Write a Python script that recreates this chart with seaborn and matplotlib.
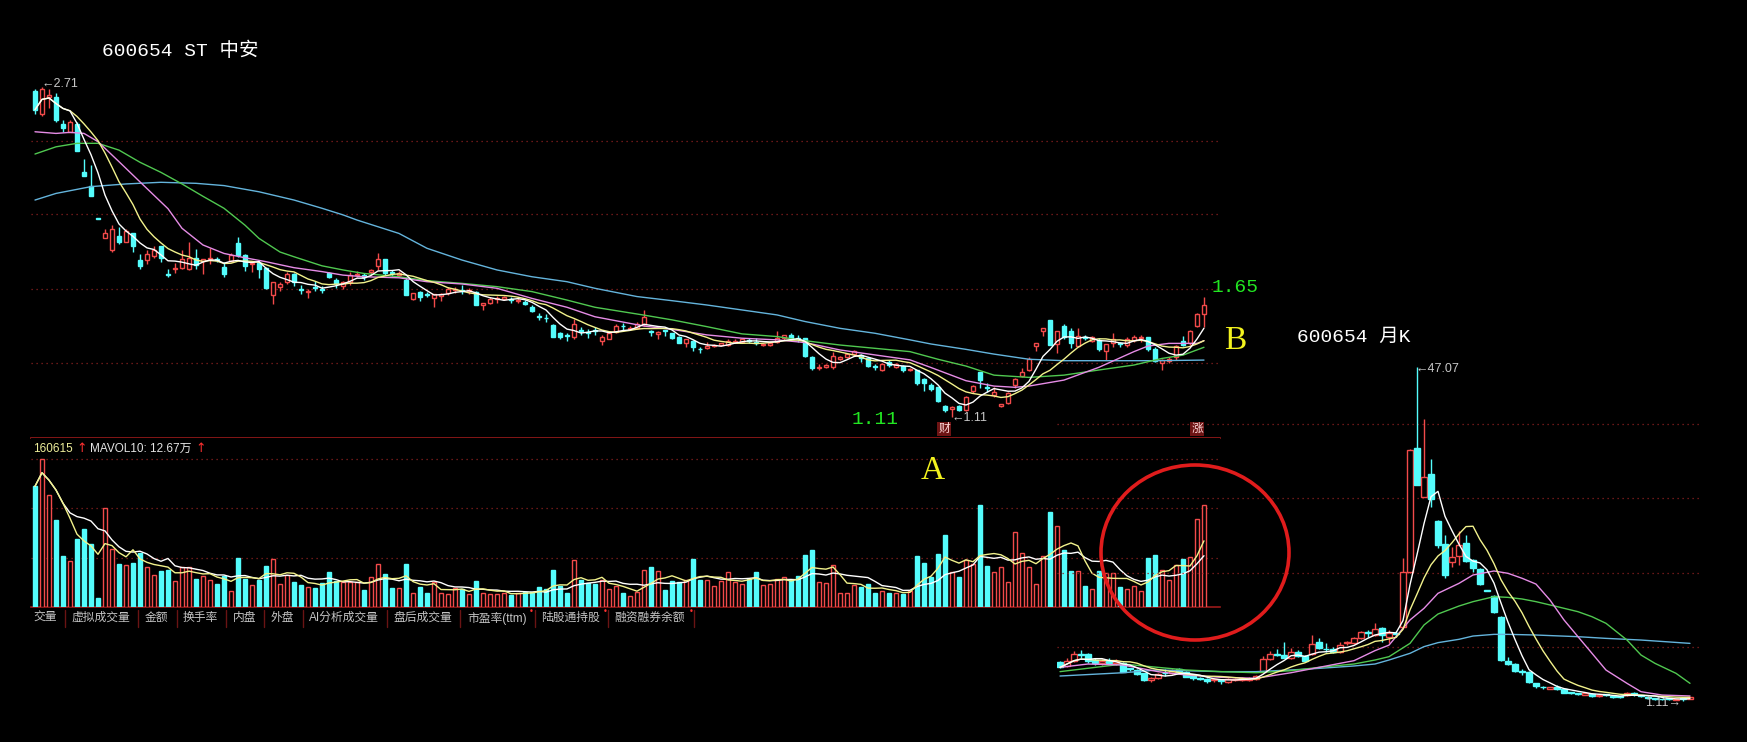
import numpy as np
import pandas as pd
import matplotlib
matplotlib.use('Agg')
import matplotlib.pyplot as plt
from matplotlib.patches import Ellipse
from matplotlib.lines import Line2D
import seaborn as sns

# ---- daily K (600654 ST中安) ----
d_open = [2.69, 2.58, 2.66, 2.66, 2.53, 2.49, 2.53, 2.30, 2.23, 2.075,
          1.98, 1.92, 1.99, 1.96, 2.00, 1.87, 1.87, 1.89, 1.94, 1.80,
          1.827, 1.834, 1.826, 1.882, 1.866, 1.874, 1.876, 1.839, 1.868, 1.952,
          1.895, 1.850, 1.858, 1.831, 1.701, 1.742, 1.763, 1.803, 1.730, 1.714,
          1.741, 1.733, 1.806, 1.774, 1.745, 1.766, 1.80, 1.80, 1.813, 1.844,
          1.874, 1.812, 1.80, 1.774, 1.682, 1.718, 1.703, 1.685, 1.697, 1.713,
          1.727, 1.725, 1.72, 1.718, 1.653, 1.664, 1.684, 1.684, 1.68, 1.673,
          1.669, 1.645, 1.598, 1.59, 1.556, 1.519, 1.504, 1.499, 1.53, 1.521,
          1.53, 1.48, 1.49, 1.524, 1.553, 1.535, 1.54, 1.561, 1.528, 1.513,
          1.53, 1.516, 1.50, 1.467, 1.48, 1.44, 1.443, 1.456, 1.458, 1.459,
          1.472, 1.476, 1.482, 1.476, 1.459, 1.459, 1.475, 1.492, 1.508, 1.49,
          1.492, 1.40, 1.35, 1.351, 1.351, 1.39, 1.40, 1.416, 1.411, 1.395,
          1.355, 1.338, 1.378, 1.351, 1.358, 1.338, 1.338, 1.293, 1.265, 1.257,
          1.165, 1.150, 1.163, 1.144, 1.238, 1.33, 1.255, 1.216, 1.163, 1.176,
          1.265, 1.309, 1.338, 1.454, 1.528, 1.58, 1.464, 1.551, 1.528, 1.454,
          1.497, 1.48, 1.483, 1.431, 1.47, 1.466, 1.459, 1.483, 1.491, 1.496,
          1.438, 1.37, 1.383, 1.399, 1.48, 1.467, 1.551, 1.609]
d_high = [2.70, 2.71, 2.70, 2.68, 2.55, 2.55, 2.54, 2.36, 2.33, 2.075,
          2.02, 2.04, 2.03, 2.02, 2.00, 1.90, 1.92, 1.94, 1.94, 1.83,
          1.855, 1.92, 1.96, 1.924, 1.876, 1.93, 1.887, 1.863, 1.903, 1.984,
          1.899, 1.86, 1.871, 1.839, 1.766, 1.766, 1.815, 1.806, 1.75, 1.733,
          1.77, 1.745, 1.815, 1.785, 1.77, 1.814, 1.82, 1.81, 1.83, 1.907,
          1.874, 1.823, 1.82, 1.79, 1.713, 1.722, 1.718, 1.706, 1.71, 1.742,
          1.742, 1.75, 1.734, 1.722, 1.661, 1.693, 1.697, 1.697, 1.69, 1.69,
          1.677, 1.653, 1.616, 1.608, 1.561, 1.524, 1.519, 1.583, 1.548, 1.535,
          1.545, 1.507, 1.524, 1.561, 1.564, 1.55, 1.572, 1.629, 1.532, 1.527,
          1.532, 1.519, 1.503, 1.487, 1.484, 1.451, 1.475, 1.464, 1.47, 1.487,
          1.487, 1.49, 1.492, 1.492, 1.468, 1.475, 1.529, 1.508, 1.519, 1.508,
          1.492, 1.406, 1.367, 1.367, 1.427, 1.406, 1.42, 1.435, 1.416, 1.40,
          1.367, 1.37, 1.387, 1.37, 1.362, 1.35, 1.338, 1.298, 1.274, 1.257,
          1.168, 1.162, 1.168, 1.212, 1.265, 1.33, 1.273, 1.254, 1.175, 1.233,
          1.297, 1.346, 1.399, 1.467, 1.54, 1.58, 1.528, 1.561, 1.54, 1.54,
          1.507, 1.503, 1.491, 1.463, 1.519, 1.475, 1.496, 1.507, 1.507, 1.496,
          1.448, 1.39, 1.402, 1.459, 1.503, 1.532, 1.612, 1.69]
d_low = [2.58, 2.57, 2.61, 2.54, 2.49, 2.49, 2.40, 2.28, 2.18, 2.07,
         1.98, 1.91, 1.95, 1.96, 1.91, 1.83, 1.85, 1.88, 1.86, 1.79,
         1.806, 1.83, 1.823, 1.826, 1.803, 1.852, 1.86, 1.787, 1.863, 1.887,
         1.818, 1.815, 1.782, 1.730, 1.656, 1.721, 1.753, 1.747, 1.705, 1.688,
         1.722, 1.71, 1.782, 1.734, 1.73, 1.75, 1.787, 1.774, 1.80, 1.823,
         1.798, 1.793, 1.79, 1.701, 1.677, 1.674, 1.69, 1.645, 1.674, 1.701,
         1.71, 1.706, 1.706, 1.653, 1.629, 1.658, 1.664, 1.677, 1.664, 1.664,
         1.653, 1.62, 1.58, 1.572, 1.496, 1.49, 1.48, 1.49, 1.507, 1.491,
         1.507, 1.459, 1.486, 1.519, 1.532, 1.53, 1.535, 1.551, 1.503, 1.49,
         1.503, 1.487, 1.467, 1.448, 1.432, 1.419, 1.442, 1.448, 1.455, 1.455,
         1.467, 1.47, 1.467, 1.46, 1.455, 1.455, 1.467, 1.483, 1.483, 1.475,
         1.403, 1.338, 1.338, 1.346, 1.341, 1.386, 1.395, 1.41, 1.379, 1.351,
         1.338, 1.335, 1.351, 1.346, 1.33, 1.333, 1.265, 1.238, 1.238, 1.185,
         1.136, 1.11, 1.14, 1.14, 1.228, 1.249, 1.232, 1.208, 1.16, 1.173,
         1.249, 1.302, 1.334, 1.431, 1.503, 1.459, 1.418, 1.486, 1.443, 1.448,
         1.483, 1.475, 1.431, 1.386, 1.448, 1.448, 1.448, 1.475, 1.475, 1.431,
         1.378, 1.338, 1.37, 1.386, 1.454, 1.459, 1.548, 1.548]
d_close = [2.60, 2.70, 2.67, 2.55, 2.51, 2.54, 2.40, 2.28, 2.18, 2.07,
           2.00, 2.02, 1.96, 2.01, 1.94, 1.84, 1.90, 1.92, 1.88, 1.797,
           1.833, 1.874, 1.879, 1.847, 1.874, 1.882, 1.872, 1.803, 1.895, 1.895,
           1.844, 1.858, 1.826, 1.734, 1.763, 1.756, 1.802, 1.763, 1.726, 1.720,
           1.736, 1.728, 1.79, 1.758, 1.765, 1.798, 1.805, 1.79, 1.823, 1.874,
           1.806, 1.808, 1.81, 1.701, 1.709, 1.693, 1.70, 1.706, 1.706, 1.729,
           1.731, 1.72, 1.725, 1.653, 1.661, 1.684, 1.688, 1.693, 1.676, 1.678,
           1.658, 1.625, 1.596, 1.588, 1.499, 1.496, 1.502, 1.561, 1.528, 1.519,
           1.528, 1.499, 1.519, 1.551, 1.549, 1.543, 1.561, 1.593, 1.524, 1.524,
           1.527, 1.492, 1.471, 1.487, 1.448, 1.438, 1.454, 1.46, 1.467, 1.48,
           1.48, 1.487, 1.48, 1.468, 1.465, 1.47, 1.492, 1.508, 1.492, 1.487,
           1.406, 1.346, 1.354, 1.362, 1.406, 1.40, 1.416, 1.432, 1.395, 1.358,
           1.353, 1.367, 1.362, 1.366, 1.338, 1.344, 1.274, 1.277, 1.244, 1.19,
           1.144, 1.158, 1.144, 1.205, 1.26, 1.289, 1.252, 1.233, 1.173, 1.228,
           1.292, 1.33, 1.391, 1.467, 1.54, 1.459, 1.528, 1.496, 1.47, 1.503,
           1.494, 1.496, 1.438, 1.463, 1.486, 1.463, 1.486, 1.496, 1.499, 1.438,
           1.383, 1.386, 1.39, 1.454, 1.459, 1.528, 1.609, 1.653]
# volume, in 10k shares (万)
d_vol = [19.2, 23.5, 17.8, 13.9, 8.1, 7.3, 10.8, 12.4, 10.0, 1.4,
         15.8, 9.2, 6.8, 6.7, 7.0, 8.6, 6.4, 5.1, 5.7, 5.9,
         4.1, 6.4, 6.4, 4.5, 4.9, 4.3, 3.7, 5.0, 2.5, 7.8,
         4.5, 3.5, 4.3, 6.5, 7.6, 3.7, 5.1, 3.9, 3.5, 3.2,
         3.0, 3.8, 5.6, 4.2, 4.0, 4.0, 4.0, 2.7, 4.8, 6.8,
         5.2, 3.0, 3.0, 6.8, 2.2, 3.2, 2.3, 4.0, 2.2, 2.1,
         3.1, 2.9, 2.1, 4.1, 2.2, 2.1, 2.1, 2.3, 1.9, 2.2,
         2.4, 2.4, 3.2, 2.8, 5.9, 3.3, 2.3, 7.5, 4.3, 3.8,
         3.7, 4.3, 2.8, 3.3, 2.3, 1.8, 2.4, 5.9, 6.4, 5.7,
         2.7, 4.1, 3.9, 4.3, 7.6, 4.3, 4.3, 3.3, 4.1, 5.5,
         3.9, 3.7, 4.5, 5.5, 3.5, 3.7, 4.5, 4.7, 4.3, 5.0,
         8.3, 9.1, 3.9, 3.8, 6.7, 2.3, 2.3, 3.5, 3.2, 3.7,
         2.2, 2.5, 2.3, 2.3, 2.1, 2.5, 8.1, 7.0, 4.8, 8.4,
         11.4, 5.5, 4.8, 7.4, 6.9, 16.2, 6.5, 5.5, 6.4, 3.9,
         11.9, 8.6, 6.3, 3.7, 8.1, 15.1, 12.8, 9.1, 5.8, 5.8,
         3.3, 2.9, 5.8, 5.4, 5.4, 3.2, 2.9, 3.4, 2.6, 7.8,
         8.3, 5.9, 4.3, 6.7, 7.7, 8.0, 14.0, 16.2]

# longer daily averages, read at a few days
d_ma20_idx = [0, 3, 5, 7, 9, 12, 15, 19, 21, 24, 27, 30, 33, 37, 41, 44, 47, 52, 56, 61,
              66, 71, 76, 80, 87, 91, 96, 101, 106, 110, 115, 120, 125, 128, 133, 137, 140, 142,
              147, 152, 157, 159, 162, 166, 167]
d_ma20_val = [2.493, 2.485, 2.49, 2.485, 2.445, 2.348, 2.25, 2.12, 2.025, 1.944, 1.903, 1.882,
              1.863, 1.834, 1.815, 1.798, 1.79, 1.785, 1.766, 1.755, 1.734, 1.685, 1.642, 1.596,
              1.551, 1.535, 1.508, 1.492, 1.484, 1.471, 1.435, 1.411, 1.387, 1.35, 1.286, 1.26,
              1.254, 1.26, 1.289, 1.351, 1.427, 1.454, 1.467, 1.467, 1.48]
d_ma30_idx = [0, 3, 6, 9, 12, 15, 18, 21, 24, 27, 30, 32, 35, 37, 41, 44, 47, 52, 56, 61, 66,
              71, 76, 80, 87, 91, 96, 101, 106, 110, 115, 120, 125, 129, 133, 137, 142, 147,
              152, 157, 161, 164, 167]
d_ma30_val = [2.385, 2.42, 2.437, 2.437, 2.404, 2.345, 2.296, 2.24, 2.18, 2.122, 2.04, 1.976,
              1.91, 1.887, 1.843, 1.823, 1.806, 1.79, 1.771, 1.758, 1.742, 1.718, 1.677, 1.642,
              1.604, 1.581, 1.548, 1.513, 1.5, 1.48, 1.459, 1.443, 1.427, 1.39, 1.357, 1.313,
              1.302, 1.313, 1.338, 1.362, 1.394, 1.41, 1.448]
d_ma60_idx = [0, 3, 8, 13, 18, 23, 27, 32, 37, 41, 44, 46, 52, 56, 61, 66, 71, 76, 80, 86, 91,
              96, 101, 106, 110, 115, 120, 125, 128, 133, 137, 142, 147, 152, 160, 167]
d_ma60_val = [2.162, 2.194, 2.227, 2.24, 2.248, 2.243, 2.232, 2.202, 2.162, 2.122, 2.09, 2.065,
              2.0, 1.928, 1.871, 1.823, 1.79, 1.766, 1.734, 1.694, 1.674, 1.653, 1.629, 1.605,
              1.573, 1.54, 1.516, 1.484, 1.464, 1.438, 1.415, 1.39, 1.383, 1.383, 1.383, 1.386]
d_grid = [2.45, 2.093, 1.729, 1.37]
vol_grid = [7.85, 15.7, 23.55]

# ---- monthly K (月K) ----
m_open = [6.52, 5.93, 6.66, 7.6, 7.58, 6.75, 6.29, 6.66, 6.3, 6.39,
          5.6, 5.38, 4.92, 4.0, 4.23, 4.95, 4.92, 5.47, 5.15, 4.55,
          4.25, 4.09, 3.98, 3.95, 3.77, 4.05, 4.0, 4.0, 4.09, 5.15,
          6.84, 7.45, 7.44, 6.98, 7.9, 7.3, 7.58, 9.27, 8.25, 8.22,
          7.9, 9.1, 9.04, 9.73, 10.5, 10.19, 11.1, 9.96, 10.4, 11.34,
          18.9, 35.88, 29.23, 32.35, 25.83, 22.71, 20.28, 21.06, 22.8, 20.51,
          19.23, 16.3, 15.56, 12.71, 6.66, 6.2, 5.2, 5.15, 3.54, 3.0,
          2.8, 3.08, 2.71, 2.3, 2.1, 1.98, 2.07, 1.8, 1.94, 1.8,
          1.7, 1.93, 2.1, 1.8, 1.7, 1.47, 1.35, 1.42, 1.3, 1.4,
          1.4]
m_high = [6.6, 6.98, 8.03, 8.1, 7.76, 6.98, 6.9, 6.98, 6.84, 6.52,
          5.7, 5.47, 5.0, 4.37, 4.92, 5.47, 5.47, 5.6, 5.28, 4.69,
          4.37, 4.23, 4.23, 4.09, 4.23, 4.23, 4.37, 4.37, 4.69, 7.3,
          8.03, 8.22, 9.27, 8.36, 8.13, 7.44, 10.19, 9.73, 9.13, 8.5,
          9.27, 9.4, 9.95, 10.8, 10.88, 11.8, 11.33, 10.88, 10.8, 20.74,
          35.74, 47.07, 39.87, 34.36, 26.02, 23.95, 22.35, 24.55, 23.95, 20.6,
          19.37, 16.3, 15.7, 12.8, 7.21, 6.29, 5.47, 5.28, 3.63, 3.17,
          3.08, 3.3, 2.8, 2.4, 2.2, 2.25, 2.16, 2.0, 2.02, 1.93,
          1.8, 2.39, 2.39, 1.9, 1.8, 1.55, 1.45, 1.5, 1.45, 1.5,
          1.69]
m_low = [5.6, 5.74, 6.52, 6.98, 6.38, 6.06, 6.1, 6.1, 6.06, 5.05,
         5.2, 4.69, 3.9, 3.77, 4.14, 4.55, 4.83, 5.0, 4.37, 4.0,
         4.0, 3.63, 3.77, 3.45, 3.54, 3.9, 3.9, 3.9, 4.0, 5.0,
         6.75, 7.3, 6.98, 6.84, 7.12, 6.52, 7.44, 8.22, 7.9, 7.76,
         7.67, 8.8, 8.95, 9.6, 9.95, 10.05, 9.28, 9.14, 9.87, 11.1,
         18.68, 30.83, 29.14, 27.85, 22.12, 17.99, 19.6, 19.83, 20.28, 18.9,
         17.07, 16.2, 13.26, 6.66, 6.06, 5.15, 4.69, 3.63, 2.85, 2.71,
         2.7, 2.62, 2.16, 2.1, 1.9, 1.9, 1.61, 1.7, 1.8, 1.47,
         1.55, 1.8, 1.8, 1.6, 1.35, 1.3, 1.2, 1.25, 1.2, 1.11,
         1.35]
m_close = [5.74, 6.66, 7.58, 7.5, 6.66, 6.29, 6.66, 6.3, 6.66, 5.15,
           5.5, 4.83, 4.0, 4.23, 4.78, 4.9, 5.28, 5.15, 4.46, 4.23,
           4.2, 3.9, 4.02, 3.9, 4.09, 4.1, 4.23, 4.23, 4.55, 6.84,
           7.58, 7.4, 6.98, 7.9, 7.3, 6.66, 8.95, 8.36, 8.2, 7.9,
           8.8, 9.15, 9.73, 10.65, 10.45, 10.97, 10.2, 10.51, 10.3, 18.9,
           35.65, 30.83, 31.89, 28.86, 22.57, 18.45, 20.97, 22.57, 20.42, 19.37,
           17.21, 16.25, 13.4, 6.75, 6.2, 5.28, 5.12, 3.77, 3.17, 2.98,
           2.99, 2.71, 2.25, 2.25, 2.05, 2.16, 1.8, 1.93, 1.92, 1.61,
           1.68, 2.25, 2.05, 1.78, 1.47, 1.45, 1.33, 1.4, 1.38, 1.38,
           1.65]
m_ma20_idx = [0, 4, 9, 14, 18, 23, 28, 33, 37, 42, 45, 47, 50, 52, 54, 57, 59, 62, 64, 66, 68,
              70, 72, 74, 76, 78, 81, 83, 86, 90]
m_ma20_val = [5.74, 6.2, 6.06, 5.15, 4.69, 4.37, 4.23, 5.0, 5.74, 6.66, 8.04, 8.8, 12.26, 13.86,
              15.93, 17.3, 18.45, 19.0, 18.68, 18.0, 17.2, 15.0, 12.26, 9.96, 7.67, 5.37, 3.54,
              2.39, 1.93, 1.8]
m_ma30_idx = [0, 9, 14, 18, 23, 28, 33, 37, 42, 45, 47, 50, 52, 54, 57, 59, 62, 64, 66, 68, 71,
              74, 76, 78, 81, 83, 85, 88, 90]
m_ma30_val = [5.15, 6.2, 5.74, 5.38, 5.15, 5.0, 5.28, 5.74, 6.2, 6.75, 7.21, 9.04, 11.57, 13.08,
              14.18, 14.78, 15.47, 15.37, 15.15, 14.78, 14.1, 13.4, 12.71, 11.8, 9.5, 7.44, 6.29,
              4.92, 3.54]
m_ma60_idx = [0, 9, 14, 23, 28, 33, 37, 42, 45, 47, 50, 52, 54, 57, 59, 62, 64, 68, 74, 78, 83, 90]
m_ma60_val = [4.55, 5.0, 5.38, 5.15, 5.15, 5.38, 5.6, 5.93, 6.2, 6.75, 7.67, 8.59, 9.14, 9.6,
              10.05, 10.28, 10.28, 10.19, 9.96, 9.73, 9.5, 9.04]
m_grid = [39.19, 29.0, 18.68, 8.5]

tab_names = ['交量', '虚拟成交量', '金额', '换手率', '内盘', '外盘', 'AI分析成交量',
             '盘后成交量', '市盈率(ttm)', '陆股通持股', '融资融券余额']

sns.set_theme(style='dark', rc={'axes.facecolor': 'black', 'figure.facecolor': 'black',
                                'savefig.facecolor': 'black', 'axes.edgecolor': 'black'})
plt.rcParams['font.family'] = ['Liberation Sans', 'Noto Sans CJK SC', 'DejaVu Sans']

W, H = 1747, 742
RED = '#f24a4a'
CYAN = '#54fcfc'
GRID = '#8c2020'
FRAME = '#9a1a1a'
C_MA5, C_MA10, C_MA20, C_MA30, C_MA60 = '#ffffff', '#f2f28c', '#e68ce6', '#50c850', '#64b4dc'
MONO = ['Liberation Mono', 'Noto Sans CJK SC']

fig = plt.figure(figsize=(W / 100, H / 100), dpi=100)


def add_ax(x0, y0, x1, y1):
    ax = fig.add_axes([x0 / W, 1 - y1 / H, (x1 - x0) / W, (y1 - y0) / H])
    ax.set_xticks([])
    ax.set_yticks([])
    for s in ax.spines.values():
        s.set_visible(False)
    return ax


def ftext(x, y, s, **kw):
    kw.setdefault('va', 'center')
    fig.text(x / W, 1 - y / H, s, **kw)


def candles(ax, o, h, l, c, width, minh):
    o, h, l, c = map(np.asarray, (o, h, l, c))
    x = np.arange(len(o))
    up = c >= o
    col = np.where(up, RED, CYAN)
    ax.vlines(x, l, h, colors=col, lw=1, zorder=2)
    ax.bar(x, np.maximum(np.abs(c - o), minh), width, bottom=np.minimum(o, c),
           color=np.where(up, 'black', CYAN), edgecolor=col, linewidth=1, zorder=3)
    return up


def ma_line(ax, x, y, color):
    sns.lineplot(x=x, y=y, ax=ax, color=color, linewidth=1, estimator=None, sort=False, zorder=4)


def grid(ax, levels):
    for g in levels:
        ax.axhline(g, color=GRID, lw=0.9, ls=(0, (1, 3)), zorder=1)


# ---- main daily chart ----
ax = add_ax(31, 75, 1220, 438)
dc = pd.Series(d_close)
grid(ax, d_grid)
up = candles(ax, d_open, d_high, d_low, d_close, 0.65, 0.004)
xd = np.arange(len(d_close))
ma_line(ax, d_ma60_idx, d_ma60_val, C_MA60)
ma_line(ax, d_ma30_idx, d_ma30_val, C_MA30)
ma_line(ax, d_ma20_idx, d_ma20_val, C_MA20)
ma_line(ax, xd, dc.rolling(10, min_periods=1).mean(), C_MA10)
ma_line(ax, xd, dc.rolling(5, min_periods=1).mean(), C_MA5)
ax.set_xlim(-0.57, 169.29)
ax.set_ylim(1.0082, 2.7682)
ax.spines['bottom'].set_visible(True)
ax.spines['bottom'].set_color(FRAME)
ax.spines['bottom'].set_linewidth(1.2)
ax.set_xlabel('')
ax.set_ylabel('')

# ---- volume ----
av = add_ax(31, 438, 1220, 607)
grid(av, vol_grid)
vcol = np.where(up, RED, CYAN)
av.bar(xd, d_vol, 0.62, color=np.where(up, 'black', CYAN), edgecolor=vcol, linewidth=1, zorder=3)
dv = pd.Series(d_vol)
ma_line(av, xd, dv.rolling(10, min_periods=1).mean(), C_MA5)
ma_line(av, xd, dv.rolling(5, min_periods=1).mean(), C_MA10)
av.set_xlim(-0.57, 169.29)
av.set_ylim(0, 26.87)
av.spines['bottom'].set_visible(True)
av.spines['bottom'].set_color(FRAME)
av.spines['bottom'].set_linewidth(1.2)
av.set_xlabel('')
av.set_ylabel('')

# ---- monthly inset ----
am = add_ax(1057, 350, 1700, 710)
am.patch.set_alpha(0)
grid(am, m_grid)
candles(am, m_open, m_high, m_low, m_close, 0.72, 0.12)
xm = np.arange(len(m_close))
mc = pd.Series(m_close)
ma_line(am, m_ma60_idx, m_ma60_val, C_MA60)
ma_line(am, m_ma30_idx, m_ma30_val, C_MA30)
ma_line(am, m_ma20_idx, m_ma20_val, C_MA20)
ma_line(am, xm, mc.rolling(10, min_periods=1).mean(), C_MA10)
ma_line(am, xm, mc.rolling(5, min_periods=1).mean(), C_MA5)
am.set_xlim(-0.43, 91.43)
am.set_ylim(-0.128, 49.41)
am.set_xlabel('')
am.set_ylabel('')

# ---- texts ----
ftext(102, 51, '600654 ST 中安', color='white', fontsize=14, family=MONO)
ftext(1297, 337, '600654 月K', color='white', fontsize=14, family=MONO)
ftext(1212, 287, '1.65', color='#22e622', fontsize=14, family=MONO)
ftext(852, 419, '1.11', color='#22e622', fontsize=14, family=MONO)
ftext(1224, 341, 'B', color='#f2f21e', fontsize=24, family='Liberation Serif')
ftext(921, 471, 'A', color='#f2f21e', fontsize=24, family='Liberation Serif')

LBL = dict(color='#c8c8c8', fontsize=9, family=['Liberation Sans', 'DejaVu Sans'])
ftext(42, 84, '←2.71', **LBL)
ftext(951, 418, '←1.11', **LBL)
ftext(1415, 369, '←47.07', **LBL)
ftext(1645, 703, '1.11→', **LBL)

tag = dict(color='#ffd8d8', fontsize=8.5, ha='center',
           bbox=dict(boxstyle='square,pad=0.12', fc='#6e1414', ec='none'))
ftext(944, 429, '财', **tag)
ftext(1197, 429, '涨', **tag)

ftext(33, 449, '160615', color='#eeee9a', fontsize=8.5)
ftext(76, 449, '↑', color='#ff3030', fontsize=9, family=['DejaVu Sans'])
ftext(90, 449, 'MAVOL10: 12.67万', color='#e4e4e4', fontsize=8.5)
ftext(195, 449, '↑', color='#ff3030', fontsize=9, family=['DejaVu Sans'])

tab_x = [33, 71, 145, 183, 233, 271, 309, 393, 467, 541, 614]
sep_x = [65, 138, 177, 226, 264, 303, 387, 460, 535, 608, 694]
dot_x = [531, 605, 691]
for name, x in zip(tab_names, tab_x):
    ftext(x, 618, name, color='#c4c4c4', fontsize=8.5)
for x in sep_x:
    fig.add_artist(Line2D([x / W, x / W], [1 - 610 / H, 1 - 627 / H], color='#6a1414', lw=1))
for x in dot_x:
    ftext(x, 611, '•', color='#ff3030', fontsize=6, ha='center', family=['DejaVu Sans'])

fig.add_artist(Ellipse((1195 / W, 1 - 552.5 / H), 188 / W, 175 / H, transform=fig.transFigure,
                       fill=False, ec='#e01c1c', lw=2.6))

fig.savefig('out.png', dpi=100, facecolor='black')
